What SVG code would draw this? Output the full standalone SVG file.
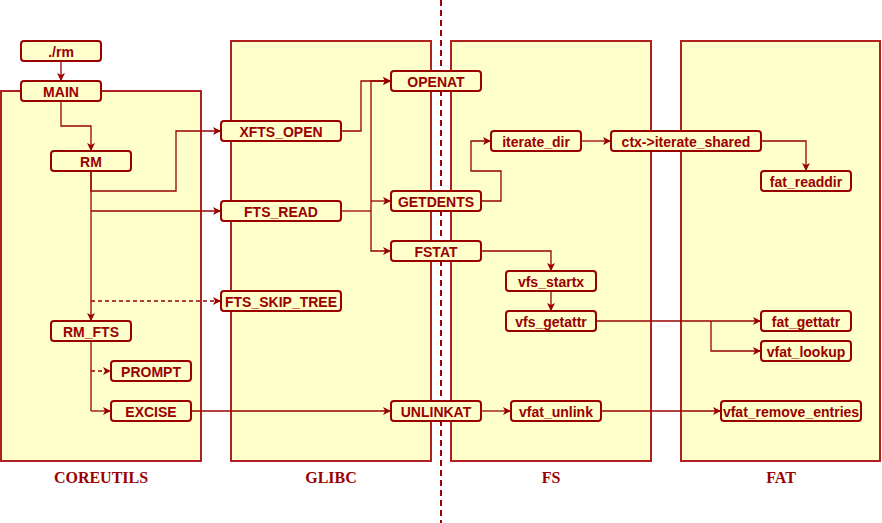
<svg xmlns="http://www.w3.org/2000/svg" width="882" height="523" viewBox="0 0 882 523">
<style>
.panel{fill:#FFFFCC;stroke:#B02020;stroke-width:2}
.node rect{fill:#FFFFCC;stroke:#990000;stroke-width:2}
.node text{font-family:"Liberation Sans",Arial,sans-serif;font-weight:bold;font-size:14px;fill:#990000;text-anchor:middle}
.lbl{font-family:"Liberation Serif","Times New Roman",serif;font-weight:bold;font-size:16px;fill:#990000;text-anchor:middle}
.c{fill:none;stroke:#990000;stroke-width:1.3}
.a{marker-end:url(#ah)}
.d{stroke-dasharray:4 3}
</style>
<defs>
<marker id="ah" markerUnits="userSpaceOnUse" markerWidth="10" markerHeight="10" refX="9" refY="5" orient="auto">
<path d="M1,1 L9,5 L1,9 L3,5 z" fill="#990000"/>
</marker>
</defs>
<g id="panels">
<rect class="panel" x="1" y="91" width="200" height="370"/>
<rect class="panel" x="231" y="41" width="200" height="420"/>
<rect class="panel" x="451" y="41" width="200" height="420"/>
<rect class="panel" x="681" y="41" width="199" height="420"/>
</g>
<line x1="441" y1="0" x2="441" y2="523" stroke="#990000" stroke-width="2" stroke-dasharray="6 4"/>
<g id="labels">
<text class="lbl" x="101" y="483">COREUTILS</text>
<text class="lbl" x="331" y="483">GLIBC</text>
<text class="lbl" x="551" y="483">FS</text>
<text class="lbl" x="781" y="483">FAT</text>
</g>
<g id="connectors">
<path class="c a" d="M61,61 V81"/>
<path class="c a" d="M61,101 V126 H91 V151"/>
<path class="c a" d="M91,171 V191 H176 V131 H221"/>
<path class="c a" d="M91,211 H221"/>
<path class="c a" d="M91,171 V321"/>
<path class="c d a" d="M91,301 H221"/>
<path class="c" d="M91,341 V411"/>
<path class="c d a" d="M91,371 H111"/>
<path class="c a" d="M91,411 H111"/>
<path class="c a" d="M191,411 H391"/>
<path class="c a" d="M341,131 H361 V81 H391"/>
<path class="c" d="M341,211 H371"/>
<path class="c a" d="M371,211 V81 H391"/>
<path class="c a" d="M371,201 H391"/>
<path class="c a" d="M371,211 V251 H391"/>
<path class="c a" d="M481,201 H501 V171 H471 V141 H491"/>
<path class="c a" d="M581,141 H611"/>
<path class="c a" d="M761,141 H806 V171"/>
<path class="c a" d="M481,251 H551 V271"/>
<path class="c a" d="M551,291 V311"/>
<path class="c a" d="M596,321 H761"/>
<path class="c a" d="M711,321 V351 H761"/>
<path class="c a" d="M481,411 H511"/>
<path class="c a" d="M601,411 H721"/>
</g>
<g id="n-rm" class="node"><rect x="21" y="41" width="80" height="20" rx="3"/><text x="61" y="57">./rm</text></g>
<g id="n-main" class="node"><rect x="21" y="81" width="80" height="20" rx="3"/><text x="61" y="97">MAIN</text></g>
<g id="n-rm2" class="node"><rect x="51" y="151" width="80" height="20" rx="3"/><text x="91" y="167">RM</text></g>
<g id="n-rmfts" class="node"><rect x="51" y="321" width="80" height="20" rx="3"/><text x="91" y="337">RM_FTS</text></g>
<g id="n-prompt" class="node"><rect x="111" y="361" width="80" height="20" rx="3"/><text x="151" y="377">PROMPT</text></g>
<g id="n-excise" class="node"><rect x="111" y="401" width="80" height="20" rx="3"/><text x="151" y="417">EXCISE</text></g>
<g id="n-xftsopen" class="node"><rect x="221" y="121" width="120" height="20" rx="3"/><text x="281" y="137">XFTS_OPEN</text></g>
<g id="n-ftsread" class="node"><rect x="221" y="201" width="120" height="20" rx="3"/><text x="281" y="217">FTS_READ</text></g>
<g id="n-ftsskip" class="node"><rect x="221" y="291" width="120" height="20" rx="3"/><text x="281" y="307">FTS_SKIP_TREE</text></g>
<g id="n-openat" class="node"><rect x="391" y="71" width="90" height="20" rx="3"/><text x="436" y="87">OPENAT</text></g>
<g id="n-getdents" class="node"><rect x="391" y="191" width="90" height="20" rx="3"/><text x="436" y="207">GETDENTS</text></g>
<g id="n-fstat" class="node"><rect x="391" y="241" width="90" height="20" rx="3"/><text x="436" y="257">FSTAT</text></g>
<g id="n-unlinkat" class="node"><rect x="391" y="401" width="90" height="20" rx="3"/><text x="436" y="417">UNLINKAT</text></g>
<g id="n-iteratedir" class="node"><rect x="491" y="131" width="90" height="20" rx="3"/><text x="536" y="147">iterate_dir</text></g>
<g id="n-ctx" class="node"><rect x="611" y="131" width="150" height="20" rx="3"/><text x="686" y="147">ctx-&gt;iterate_shared</text></g>
<g id="n-fatreaddir" class="node"><rect x="761" y="171" width="90" height="20" rx="3"/><text x="806" y="187">fat_readdir</text></g>
<g id="n-vfsstartx" class="node"><rect x="506" y="271" width="90" height="20" rx="3"/><text x="551" y="287">vfs_startx</text></g>
<g id="n-vfsgetattr" class="node"><rect x="506" y="311" width="90" height="20" rx="3"/><text x="551" y="327">vfs_getattr</text></g>
<g id="n-fatgettatr" class="node"><rect x="761" y="311" width="90" height="20" rx="3"/><text x="806" y="327">fat_gettatr</text></g>
<g id="n-vfatlookup" class="node"><rect x="761" y="341" width="90" height="20" rx="3"/><text x="806" y="357">vfat_lookup</text></g>
<g id="n-vfatunlink" class="node"><rect x="511" y="401" width="90" height="20" rx="3"/><text x="556" y="417">vfat_unlink</text></g>
<g id="n-vfatremove" class="node"><rect x="721" y="401" width="140" height="20" rx="3"/><text x="791" y="417">vfat_remove_entries</text></g>
</svg>
